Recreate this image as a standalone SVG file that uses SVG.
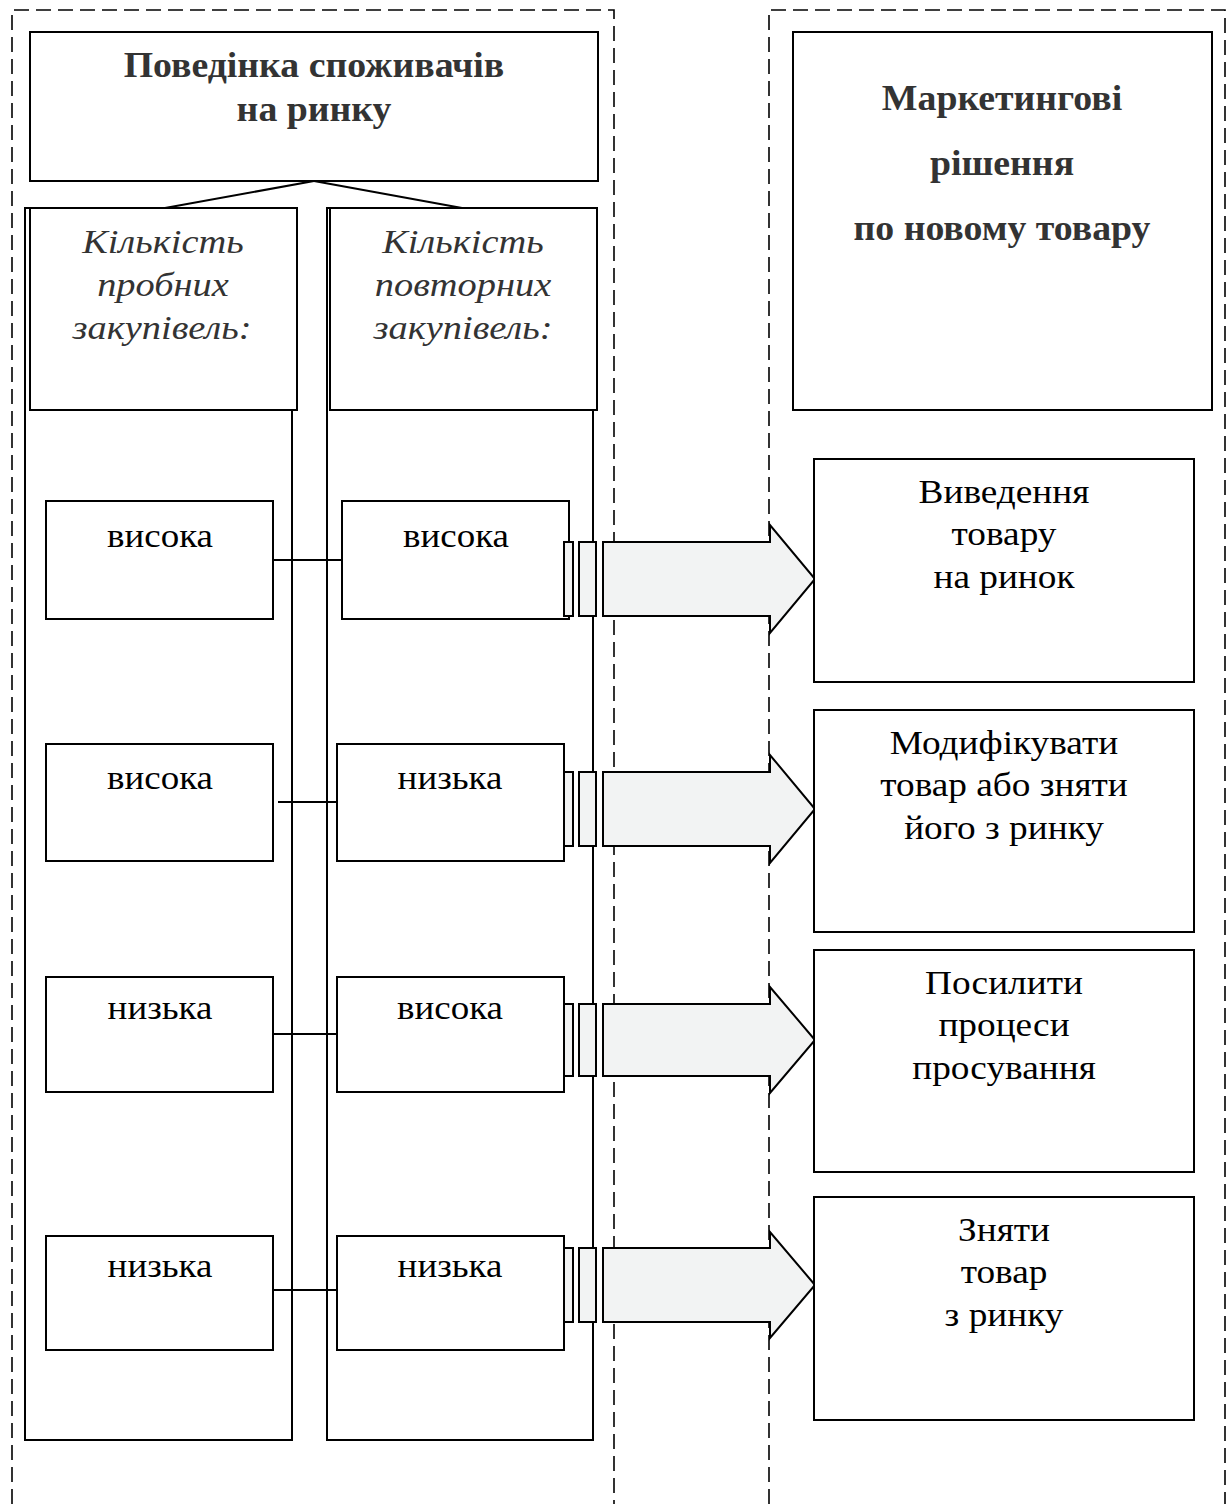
<svg xmlns="http://www.w3.org/2000/svg" width="1230" height="1504" viewBox="0 0 1230 1504">
<style>
.frame{fill:none;stroke:#000;stroke-width:1.6;stroke-dasharray:15 7}
.box{fill:#fff;stroke:#000;stroke-width:2}
.col{fill:none;stroke:#000;stroke-width:2}
.ln{stroke:#000;stroke-width:2;fill:none}
.arr{fill:#f2f3f3;stroke:#000;stroke-width:2}
.t{font-family:"Liberation Serif","Times New Roman",serif;font-size:33px;fill:#000;text-anchor:middle}
.ti{font-family:"Liberation Serif","Times New Roman",serif;font-size:34px;font-style:italic;fill:#333;text-anchor:middle}
.tb{font-family:"Liberation Serif","Times New Roman",serif;font-size:35px;font-weight:bold;fill:#333;text-anchor:middle}
</style>
<rect width="1230" height="1504" fill="#fff"/>
<g id="frames">
<path class="frame" d="M12,1504 V10 H614 V1504"/>
<path class="frame" d="M769,1504 V10 H1225 V1504"/>
</g>
<g id="connectors">
<line class="ln" x1="314" y1="181" x2="165" y2="208"/>
<line class="ln" x1="314" y1="181" x2="462" y2="208"/>
<line class="ln" x1="273" y1="560" x2="342" y2="560"/>
<line class="ln" x1="278" y1="802" x2="343" y2="802"/>
<line class="ln" x1="273" y1="1034" x2="337" y2="1034"/>
<line class="ln" x1="273" y1="1290" x2="337" y2="1290"/>
</g>
<g id="behaviour">
<rect class="box" x="30" y="32" width="568" height="149"/>
<text class="tb" transform="matrix(1.08 0 0 1 314 77)">Поведінка споживачів</text>
<text class="tb" transform="matrix(1.08 0 0 1 314 121)">на ринку</text>
</g>
<g id="col-trial">
<rect class="col" x="25" y="208" width="267" height="1232"/>
<rect class="box" x="30" y="208" width="267" height="202"/>
<text class="ti" transform="matrix(1.13 0 0 1 163 253)">Кількість</text>
<text class="ti" transform="matrix(1.13 0 0 1 163 296)">пробних</text>
<text class="ti" transform="matrix(1.13 0 0 1 162 339)">закупівель:</text>
</g>
<g id="col-repeat">
<rect class="col" x="327" y="208" width="266" height="1232"/>
<rect class="box" x="330" y="208" width="267" height="202"/>
<text class="ti" transform="matrix(1.13 0 0 1 463 253)">Кількість</text>
<text class="ti" transform="matrix(1.13 0 0 1 463 296)">повторних</text>
<text class="ti" transform="matrix(1.13 0 0 1 463 339)">закупівель:</text>
</g>
<g id="row1-left"><rect class="box" x="46" y="501" width="227" height="118"/><text class="t" transform="matrix(1.12 0 0 1 160 547)">висока</text></g>
<g id="row1-right"><rect class="box" x="342" y="501" width="227" height="118"/><text class="t" transform="matrix(1.12 0 0 1 456 547)">висока</text></g>
<g id="row2-left"><rect class="box" x="46" y="744" width="227" height="117"/><text class="t" transform="matrix(1.12 0 0 1 160 789)">висока</text></g>
<g id="row2-right"><rect class="box" x="337" y="744" width="227" height="117"/><text class="t" transform="matrix(1.12 0 0 1 450 789)">низька</text></g>
<g id="row3-left"><rect class="box" x="46" y="977" width="227" height="115"/><text class="t" transform="matrix(1.12 0 0 1 160 1019)">низька</text></g>
<g id="row3-right"><rect class="box" x="337" y="977" width="227" height="115"/><text class="t" transform="matrix(1.12 0 0 1 450 1019)">висока</text></g>
<g id="row4-left"><rect class="box" x="46" y="1236" width="227" height="114"/><text class="t" transform="matrix(1.12 0 0 1 160 1277)">низька</text></g>
<g id="row4-right"><rect class="box" x="337" y="1236" width="227" height="114"/><text class="t" transform="matrix(1.12 0 0 1 450 1277)">низька</text></g>
<g id="arrow1">
<rect class="arr" x="564" y="542" width="9" height="74"/>
<rect class="arr" x="579" y="542" width="17" height="74"/>
<path class="arr" d="M603,542 H770 V525 L815,579 L770,633 V616 H603 Z"/>
</g>
<g id="arrow2">
<rect class="arr" x="564" y="772" width="9" height="74"/>
<rect class="arr" x="579" y="772" width="17" height="74"/>
<path class="arr" d="M603,772 H770 V755 L815,809 L770,863 V846 H603 Z"/>
</g>
<g id="arrow3">
<rect class="arr" x="564" y="1004" width="9" height="72"/>
<rect class="arr" x="579" y="1004" width="17" height="72"/>
<path class="arr" d="M603,1004 H770 V987 L815,1040 L770,1093 V1076 H603 Z"/>
</g>
<g id="arrow4">
<rect class="arr" x="564" y="1248" width="9" height="74"/>
<rect class="arr" x="579" y="1248" width="17" height="74"/>
<path class="arr" d="M603,1248 H770 V1232 L815,1285 L770,1338 V1322 H603 Z"/>
</g>
<g id="decisions">
<rect class="box" x="793" y="32" width="419" height="378"/>
<text class="tb" transform="matrix(1.08 0 0 1 1002 110)">Маркетингові</text>
<text class="tb" transform="matrix(1.08 0 0 1 1002 175)">рішення</text>
<text class="tb" transform="matrix(1.08 0 0 1 1002 240)">по новому товару</text>
</g>
<g id="dec1"><rect class="box" x="814" y="459" width="380" height="223"/>
<text class="t" transform="matrix(1.13 0 0 1 1004 503)">Виведення</text><text class="t" transform="matrix(1.13 0 0 1 1004 545)">товару</text><text class="t" transform="matrix(1.13 0 0 1 1004 588)">на ринок</text></g>
<g id="dec2"><rect class="box" x="814" y="710" width="380" height="222"/>
<text class="t" transform="matrix(1.13 0 0 1 1004 754)">Модифікувати</text><text class="t" transform="matrix(1.13 0 0 1 1004 796)">товар або зняти</text><text class="t" transform="matrix(1.13 0 0 1 1004 839)">його з ринку</text></g>
<g id="dec3"><rect class="box" x="814" y="950" width="380" height="222"/>
<text class="t" transform="matrix(1.13 0 0 1 1004 994)">Посилити</text><text class="t" transform="matrix(1.13 0 0 1 1004 1036)">процеси</text><text class="t" transform="matrix(1.13 0 0 1 1004 1079)">просування</text></g>
<g id="dec4"><rect class="box" x="814" y="1197" width="380" height="223"/>
<text class="t" transform="matrix(1.13 0 0 1 1004 1241)">Зняти</text><text class="t" transform="matrix(1.13 0 0 1 1004 1283)">товар</text><text class="t" transform="matrix(1.13 0 0 1 1004 1326)">з ринку</text></g>
</svg>
